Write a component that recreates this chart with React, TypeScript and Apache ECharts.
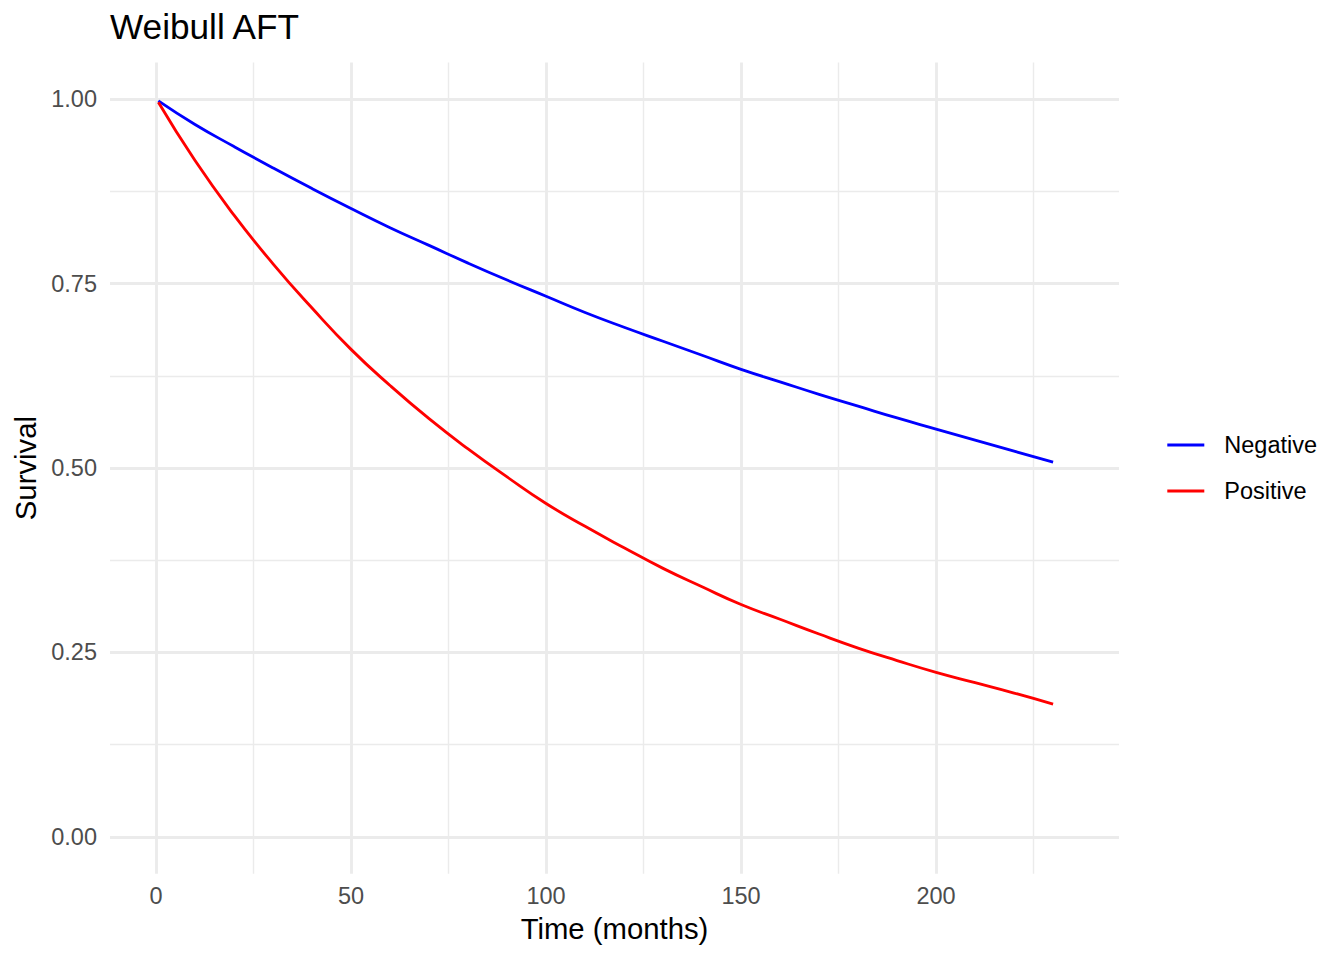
import React, { useEffect, useRef } from "react";
import * as echarts from "echarts";

const times = [0.6, 10, 20, 30, 40, 50, 60, 70, 80, 90, 100, 110, 120, 130, 140, 150, 160, 170, 180, 190, 200, 210, 220, 230];
const negative = [0.998, 0.966, 0.936, 0.907, 0.879, 0.852, 0.826, 0.802, 0.778, 0.755, 0.733, 0.711, 0.691, 0.672, 0.653, 0.634, 0.617, 0.600, 0.584, 0.568, 0.553, 0.538, 0.523, 0.508];
const positive = [0.996, 0.917, 0.843, 0.777, 0.717, 0.661, 0.612, 0.567, 0.526, 0.488, 0.452, 0.421, 0.392, 0.364, 0.339, 0.315, 0.295, 0.275, 0.256, 0.239, 0.223, 0.209, 0.195, 0.180];

const xMajor = [0, 50, 100, 150, 200];
const xMinor = [25, 75, 125, 175, 225];
const yMajor = [0, 0.25, 0.5, 0.75, 1];
const yMinor = [0.125, 0.375, 0.625, 0.875];
const yLabels = ["0.00", "0.25", "0.50", "0.75", "1.00"];

const FONT = "'Liberation Sans', Arial, sans-serif";
const GRID_COLOR = "#EBEBEB";

export default function App() {
  const ref = useRef<HTMLDivElement>(null);
  useEffect(() => {
    if (!ref.current) return;
    const chart = echarts.init(ref.current, undefined, { renderer: "svg" });
    const xMin = -11.8;
    const xMax = 246.9;
    const yMin = -0.05;
    const yMax = 1.05;
    chart.setOption({
      animation: false,
      backgroundColor: "#ffffff",
      textStyle: { fontFamily: FONT },
      title: {
        text: "Weibull AFT",
        left: 110,
        top: 9,
        padding: 0,
        textStyle: { fontSize: 35.2, fontWeight: "normal", color: "#000000", fontFamily: FONT },
      },
      legend: {
        orient: "vertical",
        left: 1167.3,
        top: 432,
        padding: 0,
        itemGap: 20,
        itemWidth: 37,
        itemHeight: 2.8,
        icon: "rect",
        textStyle: { fontSize: 23.5, color: "#000000", fontFamily: FONT, lineHeight: 26, padding: [0, 0, 0, 15] },
        data: ["Negative", "Positive"],
      },
      grid: { left: 110, right: 225, top: 62.5, bottom: 86.3, containLabel: false },
      xAxis: [
        {
          type: "value",
          min: xMin,
          max: xMax,
          name: "Time (months)",
          nameLocation: "middle",
          nameGap: 40,
          nameTextStyle: { fontSize: 29.3, color: "#000000", fontFamily: FONT },
          axisLine: { show: false },
          axisTick: { show: false, customValues: xMajor },
          axisLabel: { customValues: xMajor, fontSize: 23.5, color: "#4D4D4D", margin: 10.5, fontFamily: FONT },
          splitLine: { show: true, lineStyle: { color: GRID_COLOR, width: 2.84 } },
        },
        {
          type: "value",
          min: xMin,
          max: xMax,
          position: "bottom",
          axisLine: { show: false },
          axisTick: { show: false, customValues: xMinor },
          axisLabel: { show: false, customValues: xMinor },
          splitLine: { show: true, lineStyle: { color: GRID_COLOR, width: 1.42 } },
        },
      ],
      yAxis: [
        {
          type: "value",
          min: yMin,
          max: yMax,
          name: "Survival",
          nameLocation: "middle",
          nameGap: 70,
          nameTextStyle: { fontSize: 29.3, color: "#000000", fontFamily: FONT },
          axisLine: { show: false },
          axisTick: { show: false, customValues: yMajor },
          axisLabel: {
            customValues: yMajor,
            fontSize: 23.5,
            color: "#4D4D4D",
            margin: 13,
            fontFamily: FONT,
            formatter: (v: number) => {
              const i = yMajor.findIndex((m) => Math.abs(m - v) < 1e-9);
              return i >= 0 ? yLabels[i] : "";
            },
          },
          splitLine: { show: true, lineStyle: { color: GRID_COLOR, width: 2.84 } },
        },
        {
          type: "value",
          min: yMin,
          max: yMax,
          position: "left",
          axisLine: { show: false },
          axisTick: { show: false, customValues: yMinor },
          axisLabel: { show: false, customValues: yMinor },
          splitLine: { show: true, lineStyle: { color: GRID_COLOR, width: 1.42 } },
        },
      ],
      series: [
        {
          name: "Negative",
          type: "line",
          xAxisIndex: 0,
          yAxisIndex: 0,
          smooth: 0.5,
          symbol: "none",
          lineStyle: { color: "#0000FF", width: 2.84 },
          itemStyle: { color: "#0000FF" },
          data: times.map((t, i) => [t, negative[i]]),
          z: 3,
        },
        {
          name: "Positive",
          type: "line",
          xAxisIndex: 0,
          yAxisIndex: 0,
          smooth: 0.5,
          symbol: "none",
          lineStyle: { color: "#FF0000", width: 2.84 },
          itemStyle: { color: "#FF0000" },
          data: times.map((t, i) => [t, positive[i]]),
          z: 3,
        },
      ],
    });
    return () => chart.dispose();
  }, []);
  return (
    <div
      ref={ref}
      style={{ position: "fixed", left: 0, top: 0, width: 1344, height: 960, background: "#ffffff" }}
    />
  );
}
